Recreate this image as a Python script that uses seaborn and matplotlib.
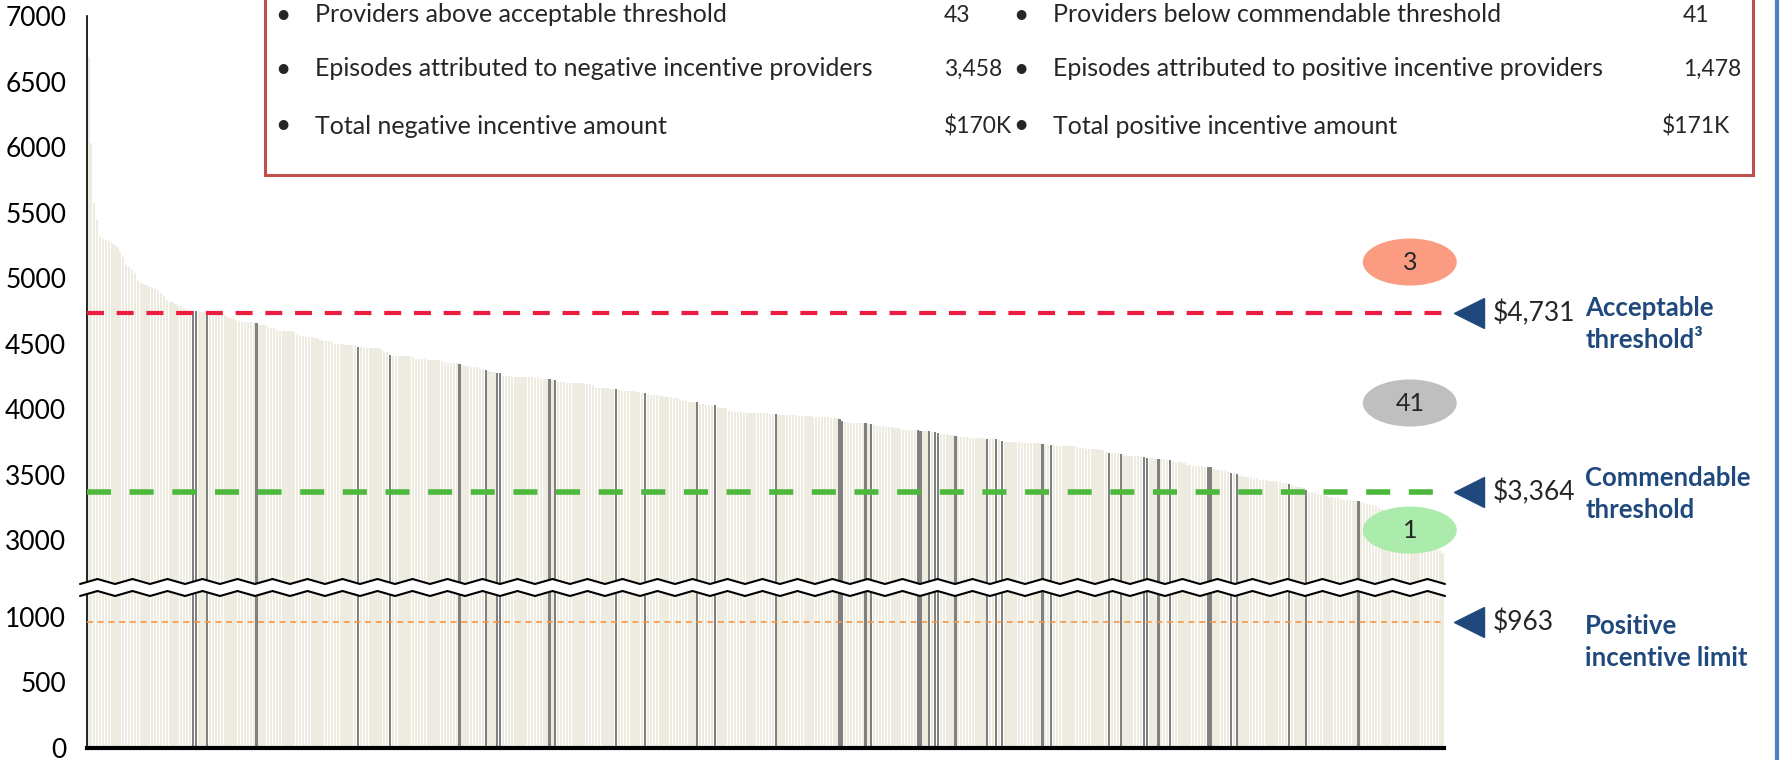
import matplotlib
matplotlib.use("Agg")
import matplotlib.pyplot as plt
import matplotlib.transforms as mtransforms
from matplotlib.patches import Ellipse, Rectangle
import numpy as np
import pandas as pd
import seaborn as sns

# average episode cost per provider, sorted high -> low
avg_cost = [
    6687, 6030, 5573, 5443, 5313, 5300, 5290, 5280, 5268, 5255, 5240,
    5200, 5160, 5100, 5084, 5060, 5038, 4980, 4962, 4955, 4947,
    4931, 4931, 4920, 4908, 4888, 4863, 4830, 4814, 4814, 4800,
    4790, 4786, 4775, 4755, 4752, 4750, 4746, 4742, 4740, 4738,
    4730, 4726, 4725, 4724, 4722, 4720, 4715, 4705, 4695, 4687,
    4680, 4672, 4668, 4667, 4666, 4665, 4662, 4659, 4645, 4641,
    4638, 4625, 4620, 4618, 4600, 4597, 4596, 4595, 4594, 4593,
    4590, 4565, 4558, 4555, 4552, 4550, 4548, 4545, 4540, 4525,
    4522, 4521, 4520, 4515, 4498, 4495, 4494, 4493, 4492, 4491,
    4490, 4485, 4476, 4470, 4468, 4467, 4466, 4465, 4464, 4463,
    4455, 4440, 4437, 4412, 4408, 4407, 4406, 4405, 4405, 4404,
    4403, 4400, 4385, 4382, 4380, 4379, 4378, 4378, 4377, 4376,
    4375, 4370, 4358, 4355, 4353, 4352, 4350, 4343, 4335, 4330,
    4326, 4324, 4322, 4318, 4308, 4305, 4298, 4290, 4286, 4283,
    4275, 4272, 4255, 4252, 4250, 4248, 4247, 4246, 4245, 4244,
    4243, 4242, 4241, 4240, 4238, 4232, 4230, 4229, 4229, 4225,
    4221, 4210, 4206, 4203, 4200, 4199, 4198, 4197, 4196, 4195,
    4194, 4192, 4190, 4180, 4162, 4160, 4159, 4158, 4157, 4156,
    4155, 4153, 4142, 4140, 4138, 4136, 4135, 4134, 4132, 4130,
    4126, 4122, 4112, 4110, 4108, 4105, 4100, 4098, 4095, 4093,
    4090, 4088, 4085, 4075, 4060, 4058, 4057, 4056, 4055, 4053,
    4040, 4035, 4032, 4031, 4030, 4030, 4015, 4010, 4008, 4005,
    3985, 3980, 3978, 3977, 3976, 3975, 3972, 3970, 3969, 3968,
    3968, 3967, 3966, 3966, 3965, 3964, 3962, 3958, 3956, 3955,
    3954, 3953, 3952, 3951, 3950, 3950, 3949, 3948, 3945, 3940,
    3939, 3938, 3938, 3937, 3936, 3935, 3934, 3930, 3924, 3908,
    3900, 3898, 3896, 3895, 3894, 3893, 3893, 3893, 3889, 3885,
    3875, 3872, 3870, 3868, 3865, 3863, 3860, 3858, 3855, 3845,
    3843, 3842, 3841, 3840, 3838, 3837, 3836, 3834, 3833, 3832,
    3828, 3824, 3817, 3810, 3808, 3806, 3805, 3800, 3794, 3788,
    3786, 3784, 3783, 3782, 3781, 3780, 3779, 3778, 3775, 3771,
    3771, 3771, 3771, 3762, 3756, 3750, 3749, 3748, 3747, 3746,
    3745, 3744, 3744, 3743, 3742, 3741, 3740, 3738, 3733, 3730,
    3728, 3725, 3722, 3721, 3720, 3719, 3718, 3718, 3717, 3716,
    3712, 3705, 3700, 3698, 3696, 3695, 3694, 3692, 3690, 3685,
    3675, 3667, 3664, 3663, 3662, 3657, 3648, 3645, 3643, 3641,
    3640, 3638, 3635, 3632, 3630, 3626, 3624, 3622, 3618, 3616,
    3615, 3613, 3611, 3602, 3598, 3595, 3592, 3585, 3572, 3570,
    3568, 3566, 3565, 3562, 3560, 3557, 3554, 3540, 3536, 3534,
    3532, 3525, 3518, 3514, 3509, 3504, 3490, 3486, 3483, 3481,
    3479, 3476, 3470, 3460, 3457, 3455, 3452, 3450, 3448, 3445,
    3442, 3438, 3432, 3427, 3418, 3412, 3408, 3404, 3395, 3382,
    3370, 3364, 3358, 3352, 3347, 3342, 3337, 3332, 3328, 3324,
    3318, 3313, 3308, 3305, 3303, 3301, 3299, 3298, 3290, 3282,
    3275, 3270, 3265, 3258, 3245, 3235, 3225, 3212, 3200, 3188,
    3175, 3160, 3148, 3135, 3120, 3105, 3090, 3075, 3060, 3045,
    3030, 3010, 2990, 2970, 2950, 2925, 2900,
]

# providers drawn in dark grey (position in the sorted list)
highlighted = [36, 37, 41, 58, 93, 104, 128, 137, 141, 142, 159, 161, 182, 192,
               210, 216, 237, 259, 260, 268, 270, 286, 287, 290, 292, 293, 299,
               310, 313, 315, 329, 332, 352, 356, 364, 365, 369, 373, 386, 387,
               394, 396, 414, 420, 438]

acceptable = 4731
commendable = 3364
pos_limit = 963
bubble_counts = ["3", "41", "1"]

summary_left = [("Providers above acceptable threshold", "43"),
                ("Episodes attributed to negative incentive providers", "3,458"),
                ("Total negative incentive amount", "$170K")]
summary_right = [("Providers below commendable threshold", "41"),
                 ("Episodes attributed to positive incentive providers", "1,478"),
                 ("Total positive incentive amount", "$171K")]

sns.set_style("white")
plt.rcParams['font.family'] = ['Lato', 'DejaVu Sans']
plt.rcParams['lines.scale_dashes'] = False

df = pd.DataFrame({'provider': range(len(avg_cost)), 'cost': avg_cost})
df['grp'] = np.where(df['provider'].isin(highlighted), 'hl', 'other')

W, H = 1785, 760
fig = plt.figure(figsize=(W / 100, H / 100), dpi=100)


def px_axes(x0, y0, x1, y1, **kw):
    return fig.add_axes([x0 / W, 1 - y1 / H, (x1 - x0) / W, (y1 - y0) / H], **kw)


ax_top = px_axes(87, 16, 1444, 588)
ax_bot = px_axes(87, 588, 1444, 748)

for ax in (ax_top, ax_bot):
    sns.barplot(data=df, x='provider', y='cost', hue='grp', hue_order=['other', 'hl'],
                palette={'other': '#EEECE1', 'hl': '#808080'}, dodge=False,
                width=0.78, saturation=1, linewidth=0, legend=False, ax=ax)
    ax.set_xlim(-0.5, len(avg_cost) - 0.5)
    ax.set_xlabel('')
    ax.set_ylabel('')
    ax.set_xticks([])
    ax.set_axisbelow(True)
    ax.tick_params(axis='y', direction='in', length=5, width=1, colors='black',
                   labelsize=19, pad=15)
    for s in ('top', 'right'):
        ax.spines[s].set_visible(False)
    ax.spines['left'].set_color('black')
    ax.spines['left'].set_linewidth(1.2)

ax_top.set_ylim(2634, 7000)
ax_top.set_yticks(range(3000, 7001, 500))
ax_top.spines['bottom'].set_visible(False)
ax_bot.set_ylim(0, 1221)
ax_bot.set_yticks([0, 500, 1000])
ax_bot.spines['bottom'].set_color('black')
ax_bot.spines['bottom'].set_linewidth(3)

# threshold lines
ax_top.axhline(acceptable, color='#EC1C3E', lw=3, dashes=(12.2, 9.2), zorder=3)
ax_top.axhline(commendable, color='#4CB83C', lw=4, dashes=(17.3, 13.4), zorder=3)
ax_bot.axhline(pos_limit, color='#F79646', lw=1.2, dashes=(4.3, 3.4), zorder=3)

# count bubbles
bubble_y = [5122, 4046, 3076]
bubble_col = ['#FA9B82', '#BFBFBF', '#ABEBAB']
for txt, yv, col in zip(bubble_counts, bubble_y, bubble_col):
    ax_top.add_patch(Ellipse((455.7, yv), 32.4, 359, facecolor=col,
                             edgecolor='none', zorder=5, clip_on=False))
    ax_top.text(455.7, yv, txt, ha='center', va='center', fontsize=18, zorder=6)

# right-hand markers
navy = '#1F497D'
markers = [(ax_top, acceptable, "Acceptable\nthreshold³", -7.6),
           (ax_top, commendable, "Commendable\nthreshold", -1),
           (ax_bot, pos_limit, "Positive\nincentive limit", -14.6)]
for ax, v, label, dy in markers:
    trans = mtransforms.blended_transform_factory(ax.transAxes, ax.transData)
    ax.plot([1.0184], [v], marker='<', ms=22, color=navy, transform=trans,
            clip_on=False, zorder=6)
    ax.text(1.036, v, f"${v:,}", ha='left', va='center', fontsize=19,
            transform=trans, clip_on=False)
    ax.annotate(label, xy=(1.104, v), xycoords=trans, xytext=(0, dy),
                textcoords='offset points', ha='left', va='center', fontsize=18.5,
                fontweight='bold', color=navy, linespacing=1.4, annotation_clip=False)

# overlay for the summary box, axis break and frame line
ov = fig.add_axes([0, 0, 1, 1], zorder=10)
ov.set_xlim(0, W)
ov.set_ylim(H, 0)
ov.axis('off')
ov.patch.set_alpha(0)

ov.add_patch(Rectangle((265, -10), 1753 - 265, 185, facecolor='white',
                       edgecolor='#C0504D', lw=2.2))
row_y = [15, 69, 126]
for (lt, lv), (rt, rv), y in zip(summary_left, summary_right, row_y):
    ov.text(283, y, "•", ha='center', va='center', fontsize=19)
    ov.text(315, y, lt, ha='left', va='center', fontsize=18)
    ov.text(944, y, lv, ha='left', va='center', fontsize=16.5)
    ov.text(1021, y, "•", ha='center', va='center', fontsize=19)
    ov.text(1053, y, rt, ha='left', va='center', fontsize=18)
    ov.text(1683 if rv != "$171K" else 1662, y, rv, ha='left', va='center', fontsize=16.5)

# zigzag axis break
zx = np.arange(80, 1450, 17.5)
zz = np.where(np.arange(len(zx)) % 2 == 0, 2.5, -2.5)
ov.fill_between(zx, 581.5 + zz, 593.5 + zz, color='white', lw=0)
ov.plot(zx, 581.5 + zz, color='black', lw=1.5)
ov.plot(zx, 593.5 + zz, color='black', lw=1.5)

ov.plot([1777, 1777], [0, H], color='#4F81BD', lw=3)

fig.savefig('out.png', dpi=100)
